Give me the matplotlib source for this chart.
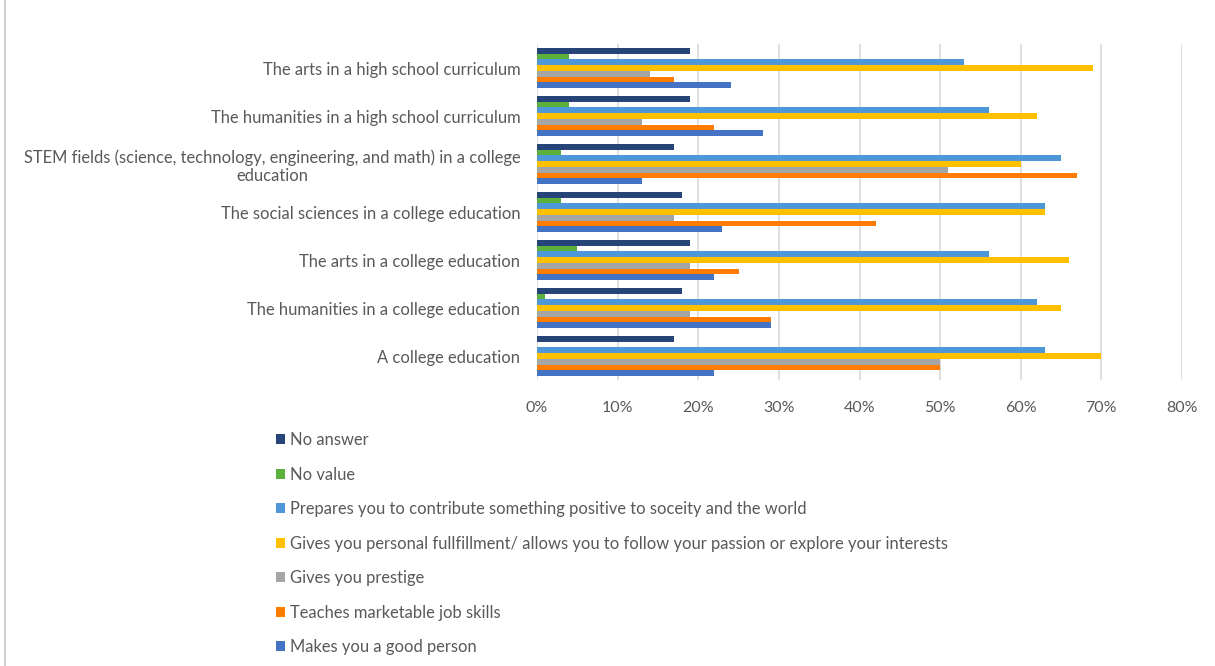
import matplotlib
matplotlib.use("Agg")
import matplotlib.pyplot as plt
from matplotlib.patches import Patch
from matplotlib.lines import Line2D
from matplotlib.ticker import PercentFormatter
import numpy as np

categories = [
    "The arts in a high school curriculum",
    "The humanities in a high school curriculum",
    "STEM fields (science, technology, engineering, and math) in a college\neducation",
    "The social sciences in a college education",
    "The arts in a college education",
    "The humanities in a college education",
    "A college education",
]

series_names = [
    "No answer",
    "No value",
    "Prepares you to contribute something positive to soceity and the world",
    "Gives you personal fullfillment/ allows you to follow your passion or explore your interests",
    "Gives you prestige",
    "Teaches marketable job skills",
    "Makes you a good person",
]

no_answer   = [19, 19, 17, 18, 19, 18, 17]
no_value    = [4, 4, 3, 3, 5, 1, 0]
prepares    = [53, 56, 65, 63, 56, 62, 63]
fulfillment = [69, 62, 60, 63, 66, 65, 70]
prestige    = [14, 13, 51, 17, 19, 19, 50]
job_skills  = [17, 22, 67, 42, 25, 29, 50]
good_person = [24, 28, 13, 23, 22, 29, 22]

series_values = [no_answer, no_value, prepares, fulfillment,
                 prestige, job_skills, good_person]
colors = ["#264478", "#5BB13B", "#4E97D8", "#FFC000",
          "#A5A5A5", "#FF7C00", "#4472C4"]

text_color = "#595959"
font = "Lato"
plt.rcParams["font.family"] = [font, "DejaVu Sans"]

fig = plt.figure(figsize=(12.15, 6.66), dpi=100)
ax = fig.add_axes([537 / 1215, 1 - 380 / 666, 645 / 1215, 336 / 666])

n_series = len(series_values)
group_width = 0.83
bar_h = group_width / n_series
y = np.arange(len(categories))
for i, (vals, col, name) in enumerate(zip(series_values, colors, series_names)):
    offset = -group_width / 2 + bar_h * (i + 0.5)
    ax.barh(y + offset, vals, height=bar_h, color=col, label=name,
            edgecolor="none", zorder=3)

ax.set_xlim(0, 80)
ax.set_ylim(len(categories) - 0.5, -0.5)
ax.set_xticks(np.arange(0, 81, 10))
ax.xaxis.set_major_formatter(PercentFormatter(decimals=0))
ax.set_yticks(y)
ax.set_yticklabels(categories, multialignment="center")
ax.tick_params(axis="both", length=0, labelcolor=text_color)
ax.tick_params(axis="x", pad=15, labelsize=11.5)
ax.tick_params(axis="y", pad=12, labelsize=11.9)
ax.grid(axis="x", color="#D9D9D9", linewidth=1.2, zorder=0)
for s in ax.spines.values():
    s.set_visible(False)

handles = [Patch(facecolor=c, edgecolor="none") for c in colors]
fig.legend(handles, series_names, loc="upper left",
           bbox_to_anchor=(276 / 1215, 1 - 432 / 666),
           frameon=False, fontsize=11.9, labelcolor=text_color,
           handlelength=0.55, handleheight=0.55, handletextpad=0.3,
           labelspacing=1.12, borderaxespad=0, borderpad=0)

fig.add_artist(Line2D([5 / 1215, 5 / 1215], [0, 1], color="#D0D0D0",
                      linewidth=1.5, transform=fig.transFigure))

fig.savefig("out.png", dpi=100, facecolor="white")
